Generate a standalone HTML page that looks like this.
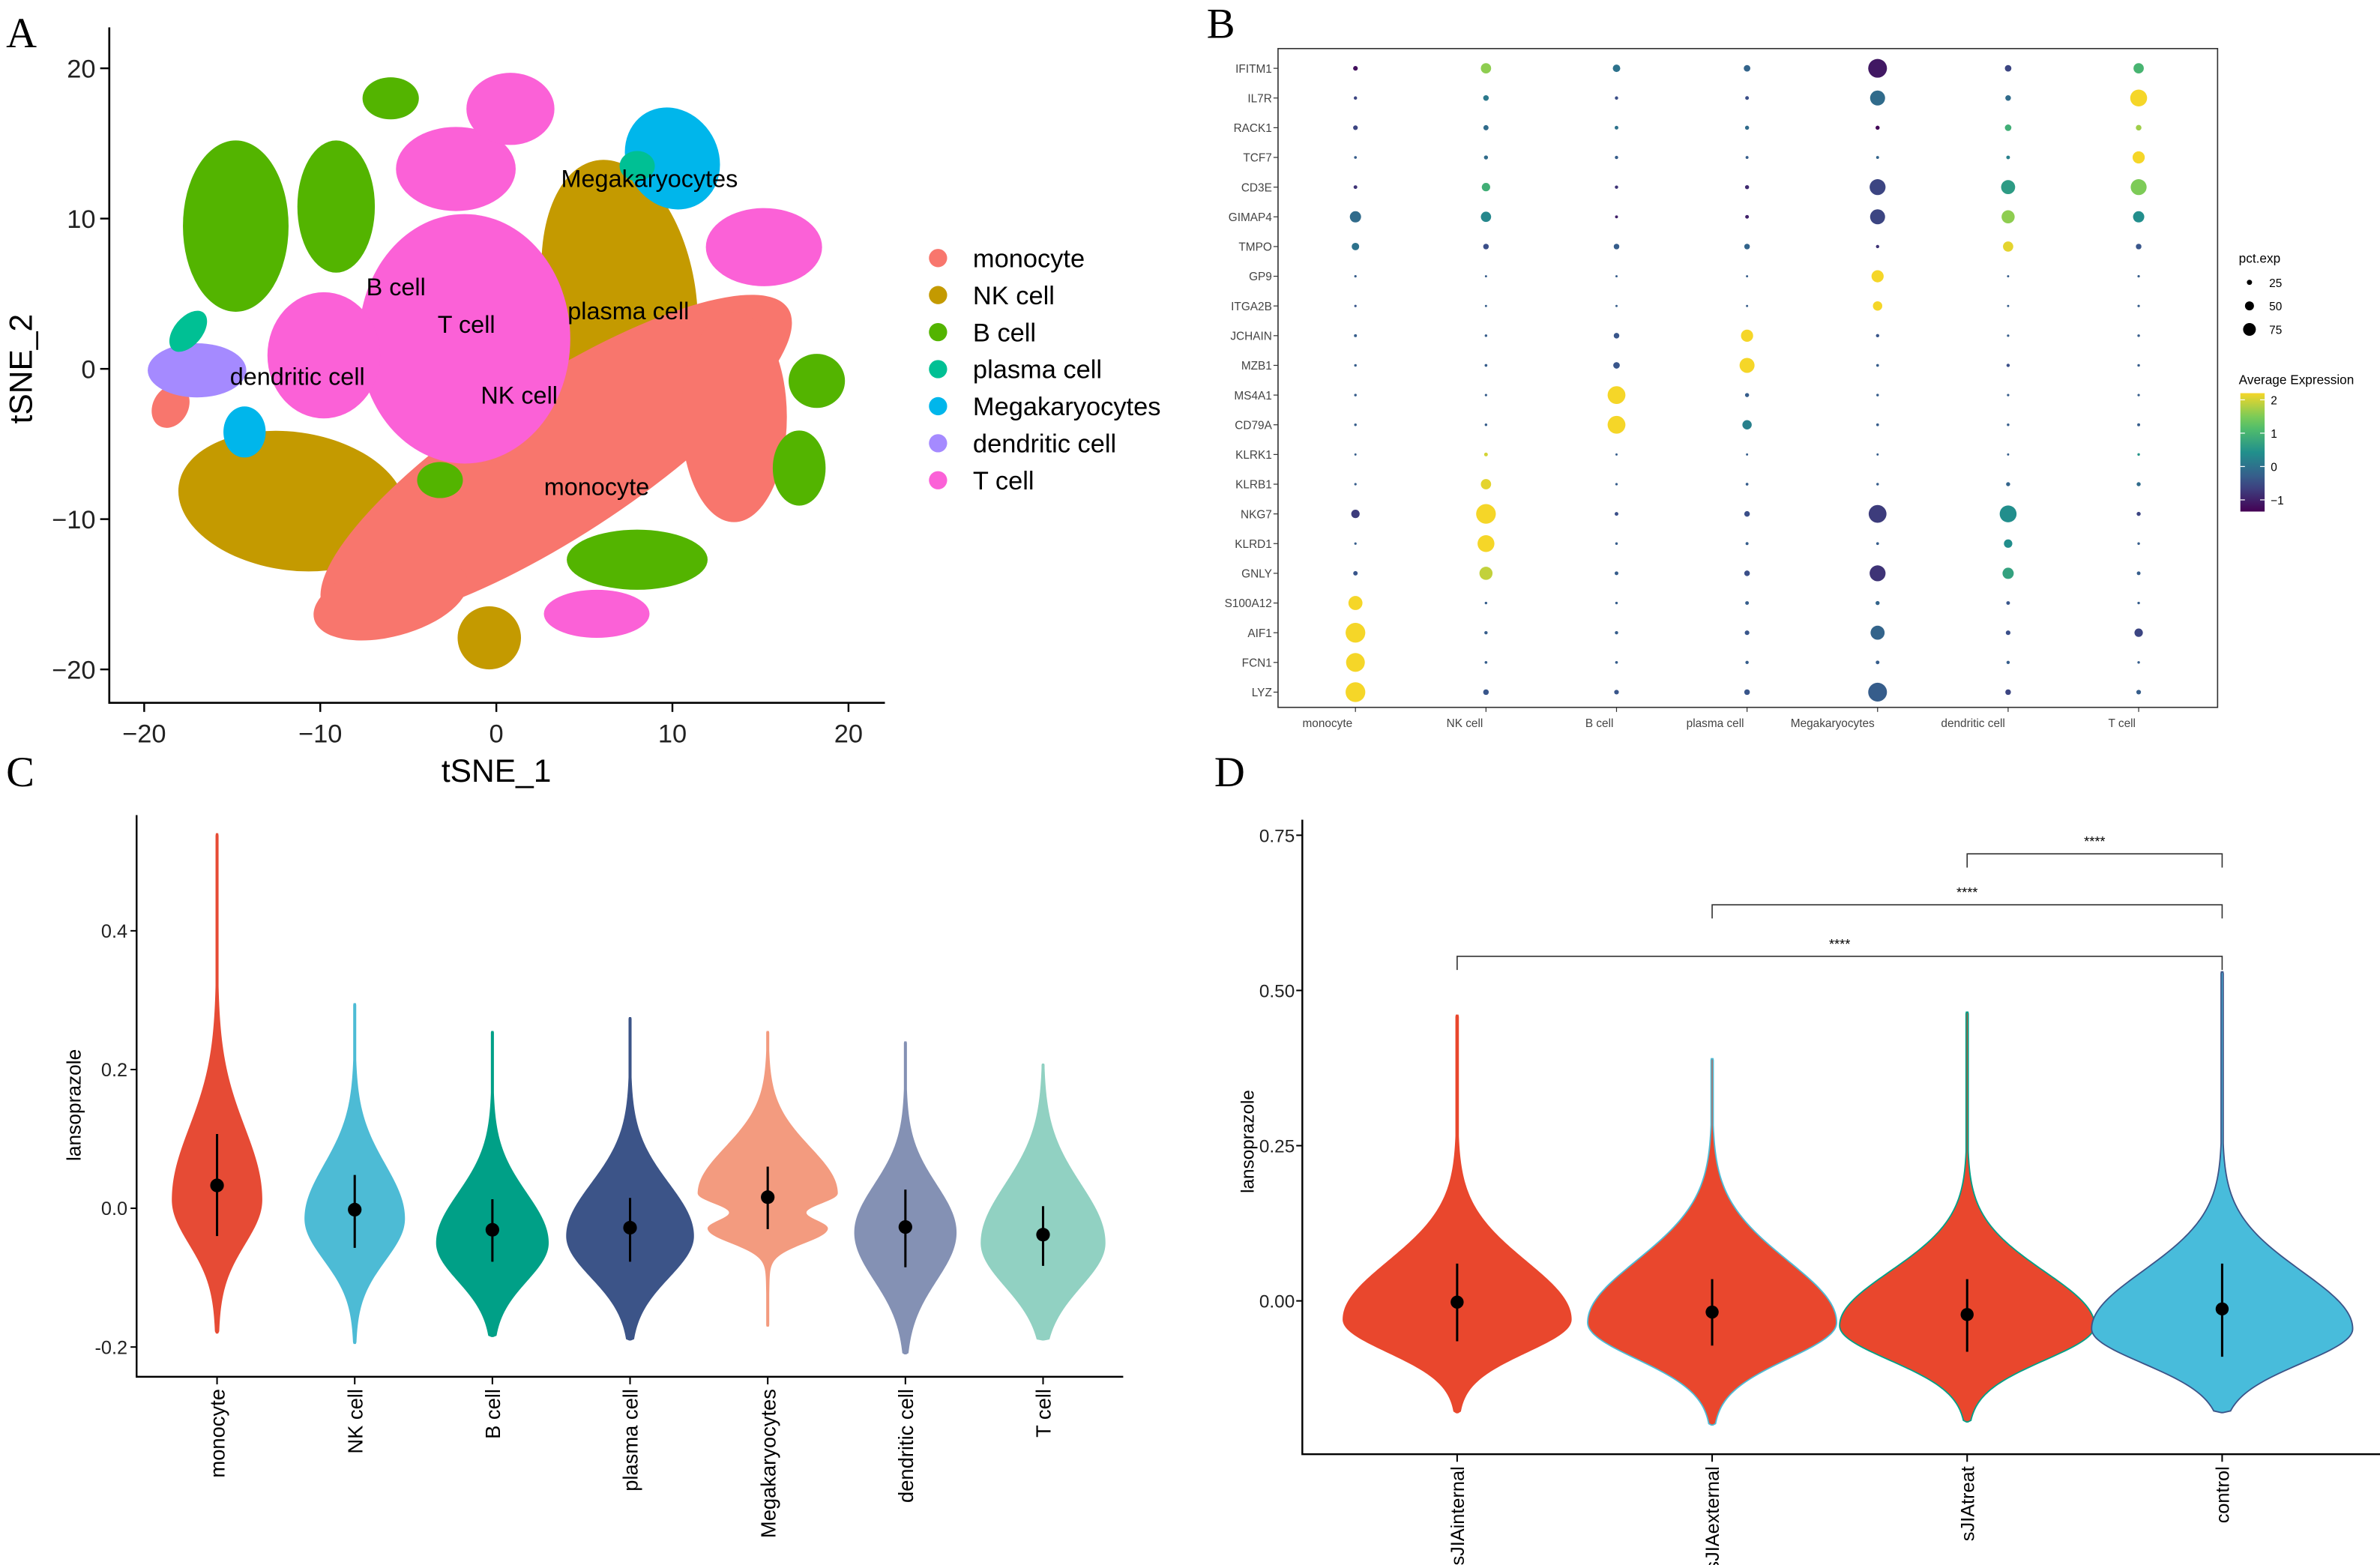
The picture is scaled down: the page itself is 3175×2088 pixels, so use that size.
<!DOCTYPE html>
<html><head><meta charset="utf-8">
<style>
html,body{margin:0;padding:0;background:#fff;}
svg{display:block;}
text{font-family:"Liberation Sans",sans-serif;}
.narrow{font-family:"Liberation Sans Narrow","Liberation Sans",sans-serif;}
</style></head>
<body>
<svg id="fig" width="3175" height="2088" viewBox="0 0 1568 1031" preserveAspectRatio="none" xmlns="http://www.w3.org/2000/svg">
<rect width="1568" height="1031" fill="#fff"/>
<text x="4" y="31" style="font-family:'Liberation Serif',serif" font-size="28">A</text>
<text x="795" y="25" style="font-family:'Liberation Serif',serif" font-size="28">B</text>
<text x="4" y="518" style="font-family:'Liberation Serif',serif" font-size="28">C</text>
<text x="800" y="518" style="font-family:'Liberation Serif',serif" font-size="28">D</text>
<g id="pA"></g>
<g id="pB"></g>
<g id="pC"></g>
<g id="pD"></g>
</svg>
<script>
// ---------- Panel A data ----------
const cellTypes = ["monocyte","NK cell","B cell","plasma cell","Megakaryocytes","dendritic cell","T cell"];
const cellColors = ["#F8766D","#C49A00","#53B400","#00C094","#00B6EB","#A58AFF","#FB61D7"];
// blobs: cluster index, x, y, rx, ry, angle in tSNE units
const blobType = [2,2,2, 1,1,1, 0,0,0,0, 4,4, 5, 2,2,2,2, 3,3, 6,6,6,6,6,6];
const blobX = [-14.8,-9.1,-6.0, 7.0,-11.6,-0.4, 3.4,13.5,-18.5,-6.0, 10.0,-14.3, -17.0, 18.2,17.2,8.0,-3.2, 8.0,-17.5, -1.8,-2.3,-9.8,0.8,15.2,5.7];
const blobY = [9.5,10.8,18.0, 5.0,-8.8,-17.9, -6.0,-3.2,-2.5,-15.3, 14.0,-4.2, -0.1, -0.8,-6.6,-12.7,-7.4, 13.5,2.5, 2.0,13.3,0.9,17.3,8.1,-16.3];
const blobRX = [3.0,2.2,1.6, 4.3,6.5,1.8, 15.7,3.0,1.0,4.5, 2.6,1.2, 2.8, 1.6,1.5,4.0,1.3, 1.0,0.8, 6.0,3.4,3.2,2.5,3.3,3.0];
const blobRY = [5.7,4.4,1.4, 9.0,4.6,2.1, 5.2,7.0,1.5,2.5, 3.5,1.7, 1.8, 1.8,2.5,2.0,1.2, 1.0,1.6, 8.3,2.8,4.2,2.4,2.6,1.6];
const blobAng = [0,0,0, -10,8,0, -33,0,30,-15, -30,0, 0, 0,0,0,0, 0,40, 0,0,0,0,0,0];
const tsneTicks = [-20,-10,0,10,20];
const tsneLabels = ["Megakaryocytes","plasma cell","B cell","T cell","dendritic cell","NK cell","monocyte"];
const tsneLabelX = [8.7,7.5,-5.7,-1.7,-11.3,1.3,5.7];
const tsneLabelY = [12.7,3.9,5.5,3.0,-0.45,-1.7,-7.8];

// ---------- Panel B data ----------
const genes = ["IFITM1","IL7R","RACK1","TCF7","CD3E","GIMAP4","TMPO","GP9","ITGA2B","JCHAIN","MZB1","MS4A1","CD79A","KLRK1","KLRB1","NKG7","KLRD1","GNLY","S100A12","AIF1","FCN1","LYZ"];
const pctExp = [
 [15,45,30,25,90,25,45],[8,20,8,10,70,20,80],[15,18,10,12,12,25,20],[5,12,8,6,6,10,55],
 [10,35,8,12,75,65,75],[50,45,6,10,70,60,50],[30,20,20,20,8,45,20],[3,2,2,2,55,2,3],
 [3,2,2,2,40,2,3],[6,4,20,55,8,3,4],[4,5,25,70,5,8,4],[4,3,85,12,4,3,3],
 [4,4,85,40,5,4,6],[2,10,2,2,2,2,4],[3,45,3,5,4,12,12],[35,95,10,20,85,80,12],
 [3,80,4,6,5,35,4],[14,60,10,20,75,50,10],[65,4,4,10,12,10,4],[95,8,8,15,65,15,35],
 [90,5,5,8,10,8,4],[95,20,15,20,90,20,15]];
const avgExp = [
 [-1.2,1.6,0,-0.2,-1.1,-0.6,1.0],[-0.6,0.1,-0.5,-0.5,-0.1,-0.1,2.2],[-0.6,-0.1,0,-0.1,-1.3,0.9,1.7],[-0.3,-0.1,-0.3,-0.3,-0.2,0.2,2.2],
 [-0.8,0.9,-0.8,-0.9,-0.6,0.6,1.5],[-0.1,0.3,-1.0,-1.0,-0.6,1.6,0.4],[0,-0.5,-0.3,-0.2,-0.8,2.1,-0.4],[-0.3,-0.3,-0.3,-0.3,2.2,-0.3,-0.3],
 [-0.4,-0.3,-0.3,-0.3,2.2,-0.3,-0.3],[-0.3,-0.3,-0.4,2.2,-0.4,-0.3,-0.3],[-0.3,-0.3,-0.4,2.2,-0.3,-0.5,-0.3],[-0.3,-0.3,2.2,-0.3,-0.3,-0.3,-0.3],
 [-0.3,-0.3,2.2,0.2,-0.3,-0.3,-0.3],[-0.3,2.0,-0.3,-0.3,-0.3,-0.3,0.5],[-0.3,2.1,-0.3,-0.3,-0.3,-0.2,-0.1],[-0.7,2.2,-0.5,-0.5,-0.7,0.4,-0.6],
 [-0.3,2.2,-0.3,-0.3,-0.3,0.4,-0.3],[-0.4,1.9,-0.3,-0.5,-0.8,0.7,-0.3],[2.2,-0.3,-0.3,-0.3,-0.2,-0.4,-0.3],[2.2,-0.3,-0.3,-0.4,-0.2,-0.5,-0.6],
 [2.2,-0.3,-0.3,-0.3,-0.3,-0.3,-0.3],[2.2,-0.4,-0.4,-0.4,-0.3,-0.6,-0.3]];
const sizeLegend = [25,50,75];
const colorTicks = [2,1,0,-1];

// ---------- Panel C data ----------
const cCats = ["monocyte","NK cell","B cell","plasma cell","Megakaryocytes","dendritic cell","T cell"];
const cColors = ["#E64B35","#4DBBD5","#00A087","#3C5488","#F39B7F","#8491B4","#91D1C2"];
const cMin = [-0.18,-0.195,-0.185,-0.19,-0.17,-0.21,-0.19];
const cMax = [0.54,0.295,0.255,0.275,0.255,0.24,0.208];
const cMean = [0.033,-0.002,-0.031,-0.028,0.016,-0.027,-0.038];
const cLo = [-0.04,-0.057,-0.077,-0.077,-0.03,-0.085,-0.083];
const cHi = [0.107,0.048,0.013,0.015,0.06,0.027,0.003];
// gaussian density components per violin: center, halfwidth(px), sdLow, sdHigh
const cComps = [
 [[0.012,27,0.062,0.104]],
 [[-0.015,31,0.059,0.077]],
 [[-0.05,35,0.054,0.071]],
 [[-0.04,40,0.059,0.075]],
 [[0.022,44,0.018,0.065],[-0.03,37,0.02,0.015]],
 [[-0.035,31.6,0.068,0.068]],
 [[-0.05,39,0.062,0.084]]];
const cTailW = [2.5,1.8,1.8,1.8,1.8,1.8,1.8];
const cTailS = [0.12,0.1,0.1,0.1,0.1,0.1,0.1];
const cTicks = [-0.2,0.0,0.2,0.4];

// ---------- Panel D data ----------
const dCats = ["sJIAinternal","sJIAexternal","sJIAtreat","control"];
const dFill = ["#E9472D","#E9472D","#E9472D","#48BCDB"];
const dLine = ["#E9472D","#4DBBD5","#00A087","#3C5488"];
const dMin = [-0.18,-0.2,-0.195,-0.18];
const dMax = [0.46,0.39,0.465,0.53];
const dMean = [-0.002,-0.018,-0.022,-0.013];
const dLo = [-0.065,-0.072,-0.082,-0.09];
const dHi = [0.06,0.035,0.035,0.06];
const dComps = [
 [[-0.03,73,0.052,0.093]],
 [[-0.035,80,0.058,0.1]],
 [[-0.04,82,0.055,0.087]],
 [[-0.045,84,0.055,0.093]]];
const dTailW = [2,2,2,2];
const dTailS = [0.1,0.1,0.1,0.1];
const dTicks = [0.00,0.25,0.50,0.75];
const sigFrom = [2,1,0];
const sigTo = [3,3,3];
const sigY = [0.72,0.638,0.555];
const sigLabel = ["****","****","****"];

const NS = "http://www.w3.org/2000/svg";
function mk(parent, tag, attrs, txt){
  const e = document.createElementNS(NS, tag);
  for (const k in attrs) e.setAttribute(k, attrs[k]);
  if (txt !== undefined) e.textContent = txt;
  parent.appendChild(e);
  return e;
}

// ================= Panel A =================
(function(){
  const g = document.getElementById("pA");
  const X = v => 327 + v*11.6;
  const Y = v => 243 - v*9.9;
  const plot = mk(g,"g",{});
  
  
  for (let i=0;i<blobType.length;i++){
    const e = mk(plot,"ellipse",{cx:X(blobX[i]),cy:Y(blobY[i]),rx:blobRX[i]*11.6,ry:blobRY[i]*9.9,
      fill:cellColors[blobType[i]],transform:`rotate(${blobAng[i]} ${X(blobX[i])} ${Y(blobY[i])})`});
    
    
  }
  for (let i=0;i<tsneLabels.length;i++){
    const t = mk(g,"text",{x:X(tsneLabelX[i]),y:Y(tsneLabelY[i])+6,"font-size":16,"text-anchor":"middle",fill:"#000"},tsneLabels[i]);
    
    
  }
  const ax = mk(g,"path",{d:"M72,18 V463 H583",stroke:"#000","stroke-width":1.3,fill:"none"});
  
  
  tsneTicks.forEach(v=>{
    mk(g,"line",{x1:X(v),x2:X(v),y1:463,y2:469,stroke:"#000","stroke-width":1.2});
    const tx = mk(g,"text",{x:X(v),y:489,"font-size":17,"text-anchor":"middle",fill:"#222"},v<0?"\u2212"+(-v):String(v));
    
    
    mk(g,"line",{x1:66,x2:72,y1:Y(v),y2:Y(v),stroke:"#000","stroke-width":1.2});
    const ty = mk(g,"text",{x:63,y:Y(v)+6,"font-size":17,"text-anchor":"end",fill:"#222"},v<0?"\u2212"+(-v):String(v));
    
    
  });
  const xt = mk(g,"text",{x:327,y:515,"font-size":21,"text-anchor":"middle"},"tSNE_1");
  
  
  const yt = mk(g,"text",{x:0,y:0,"font-size":21,"text-anchor":"middle",transform:"translate(21,243) rotate(-90)"},"tSNE_2");
  
  
  cellTypes.forEach((c,i)=>{
    const y = 170 + i*24.4;
    const le = mk(g,"g",{});
    
    
    mk(le,"circle",{cx:618,cy:y,r:6,fill:cellColors[i]});
    mk(le,"text",{x:641,y:y+6,"font-size":17},c);
  });
})();

// ================= Panel B =================
function viridis(t){
  const s=[[68,1,84],[59,82,139],[33,144,140],[93,200,99],[245,214,40]];
  t=Math.max(0,Math.min(1,t))*4; const i=Math.min(3,Math.floor(t)); const f=t-i;
  const c=s[i].map((v,k)=>Math.round(v+(s[i+1][k]-v)*f));
  return `rgb(${c[0]},${c[1]},${c[2]})`;
}
(function(){
  const g = document.getElementById("pB");
  const colX = i => 893 + i*86;
  const rowY = j => 45 + j*19.57;
  const rad = p => 0.6 + p*0.062;
  const col = e => viridis((e+1.35)/3.55);
  const frame = mk(g,"rect",{x:842,y:32,width:619,height:434,fill:"none",stroke:"#333","stroke-width":0.8});
  
  
  genes.forEach((gn,j)=>{
    mk(g,"line",{x1:839,x2:842,y1:rowY(j),y2:rowY(j),stroke:"#333","stroke-width":0.6});
    const t = mk(g,"text",{x:838,y:rowY(j)+2.8,"font-size":7.6,"text-anchor":"end",fill:"#444",class:"narrow"},gn);
    
    
    cellTypes.forEach((c,i)=>{
      const d = mk(g,"circle",{cx:colX(i),cy:rowY(j),r:rad(pctExp[j][i]),fill:col(avgExp[j][i])});
      
      
    });
  });
  cellTypes.forEach((c,i)=>{
    mk(g,"line",{x1:colX(i),x2:colX(i),y1:466,y2:469,stroke:"#333","stroke-width":0.6});
    const t = mk(g,"text",{x:colX(i)-2,y:479,"font-size":7.6,"text-anchor":"end",fill:"#444",class:"narrow"},c);
    
    
  });
  const lt = mk(g,"text",{x:1475,y:173,"font-size":8.5,class:"narrow"},"pct.exp");
  
  
  sizeLegend.forEach((p,k)=>{
    const y = 186 + k*15.5;
    mk(g,"circle",{cx:1482,cy:y,r:rad(p)*0.8,fill:"#000"});
    mk(g,"text",{x:1495,y:y+3,"font-size":7.6,class:"narrow"},String(p));
  });
  const ct = mk(g,"text",{x:1475,y:253,"font-size":8.5,class:"narrow"},"Average Expression");
  
  
  const defs = mk(g,"defs",{});
  const lg = mk(defs,"linearGradient",{id:"vir",x1:0,y1:1,x2:0,y2:0});
  for(let k=0;k<=10;k++) mk(lg,"stop",{offset:k/10,"stop-color":viridis(k/10)});
  const cb = mk(g,"rect",{x:1476,y:259,width:16,height:78,fill:"url(#vir)"});
  
  
  const cbY = e => 337 - (e+1.35)/3.55*78;
  colorTicks.forEach(v=>{
    mk(g,"line",{x1:1476,x2:1479,y1:cbY(v),y2:cbY(v),stroke:"#fff","stroke-width":0.6});
    mk(g,"line",{x1:1489,x2:1492,y1:cbY(v),y2:cbY(v),stroke:"#fff","stroke-width":0.6});
    mk(g,"text",{x:1496,y:cbY(v)+3,"font-size":7.6,class:"narrow"},v<0?"\u2212"+(-v):String(v));
  });
})();

// ================= violin helper =================
function violinHW(comps, tw, ts, y){
  let w=0;
  comps.forEach(c=>{
    const d = y-c[0]; const s = d<0?c[2]:c[3];
    w += c[1]*Math.exp(-0.5*(d/s)*(d/s));
  });
  const d0 = Math.abs(y-comps[0][0]);
  w += tw*Math.pow(1+Math.pow(d0/ts,3),-2/3);
  return w;
}
function violinPath(cx, comps, tw, ts, ymin, ymax, Y){
  const n=260, L=[], R=[];
  for(let k=0;k<=n;k++){
    const y = ymin + (ymax-ymin)*k/n;
    let hw = Math.max(violinHW(comps,tw,ts,y),0.7);
    if(k===0||k===n) hw=0.5;
    L.push([cx-hw,Y(y)]); R.push([cx+hw,Y(y)]);
  }
  const pts = L.concat(R.reverse());
  return "M"+pts.map(p=>p[0].toFixed(2)+","+p[1].toFixed(2)).join("L")+"Z";
}

// ================= Panel C =================
(function(){
  const g = document.getElementById("pC");
  const X = i => 143 + i*90.7;
  const Y = v => 796 - v*457;
  cCats.forEach((c,i)=>{
    const p = mk(g,"path",{d:violinPath(X(i),cComps[i],cTailW[i],cTailS[i],cMin[i],cMax[i],Y),fill:cColors[i],stroke:cColors[i],"stroke-width":0.6});
    
    
    const r = mk(g,"line",{x1:X(i),x2:X(i),y1:Y(cLo[i]),y2:Y(cHi[i]),stroke:"#000","stroke-width":1.5});
    
    
    const pt = mk(g,"circle",{cx:X(i),cy:Y(cMean[i]),r:4.5,fill:"#000"});
    
    
    mk(g,"line",{x1:X(i),x2:X(i),y1:907,y2:912,stroke:"#000","stroke-width":1});
    const t = mk(g,"text",{x:0,y:0,"font-size":13.5,"text-anchor":"end",transform:`translate(${X(i)+5},915) rotate(-90)`},c);
    
    
  });
  const ax = mk(g,"path",{d:"M90,537 V907 H740",stroke:"#000","stroke-width":1.2,fill:"none"});
  
  
  cTicks.forEach(v=>{
    mk(g,"line",{x1:86,x2:90,y1:Y(v),y2:Y(v),stroke:"#000","stroke-width":1});
    const t = mk(g,"text",{x:84,y:Y(v)+4.5,"font-size":12.5,"text-anchor":"end",fill:"#222",class:"narrow"},(v<0?"-":"")+Math.abs(v).toFixed(1));
    
    
  });
  const yt = mk(g,"text",{x:0,y:0,"font-size":13,"text-anchor":"middle",transform:"translate(53,728) rotate(-90)"},"lansoprazole");
  
  
})();

// ================= Panel D =================
(function(){
  const g = document.getElementById("pD");
  const X = i => 960 + i*168;
  const Y = v => 857 - v*409;
  dCats.forEach((c,i)=>{
    const p = mk(g,"path",{d:violinPath(X(i),dComps[i],dTailW[i],dTailS[i],dMin[i],dMax[i],Y),fill:dFill[i],stroke:dLine[i],"stroke-width":0.9});
    
    
    const r = mk(g,"line",{x1:X(i),x2:X(i),y1:Y(dLo[i]),y2:Y(dHi[i]),stroke:"#000","stroke-width":1.5});
    
    
    const pt = mk(g,"circle",{cx:X(i),cy:Y(dMean[i]),r:4.3,fill:"#000"});
    
    
    mk(g,"line",{x1:X(i),x2:X(i),y1:958,y2:963,stroke:"#000","stroke-width":1});
    const t = mk(g,"text",{x:0,y:0,"font-size":12.5,"text-anchor":"end",transform:`translate(${X(i)+4.5},966) rotate(-90)`},c);
    
    
  });
  sigFrom.forEach((f,k)=>{
    const y = Y(sigY[k]);
    const b = mk(g,"path",{d:`M${X(f)},${y+9} V${y} H${X(sigTo[k])} V${y+9}`,stroke:"#333","stroke-width":0.8,fill:"none"});
    
    
    const t = mk(g,"text",{x:(X(f)+X(sigTo[k]))/2,y:y-5,"font-size":9,"text-anchor":"middle"},sigLabel[k]);
    
    
  });
  const ax = mk(g,"path",{d:"M858,540 V958 H1568",stroke:"#000","stroke-width":1.2,fill:"none"});
  
  
  dTicks.forEach(v=>{
    mk(g,"line",{x1:854,x2:858,y1:Y(v),y2:Y(v),stroke:"#000","stroke-width":1});
    const t = mk(g,"text",{x:853,y:Y(v)+4.5,"font-size":12,"text-anchor":"end",fill:"#222",class:"narrow"},v.toFixed(2));
    
    
  });
  const yt = mk(g,"text",{x:0,y:0,"font-size":12,"text-anchor":"middle",transform:"translate(826,752) rotate(-90)"},"lansoprazole");
  
  
})();
</script>
</body></html>
